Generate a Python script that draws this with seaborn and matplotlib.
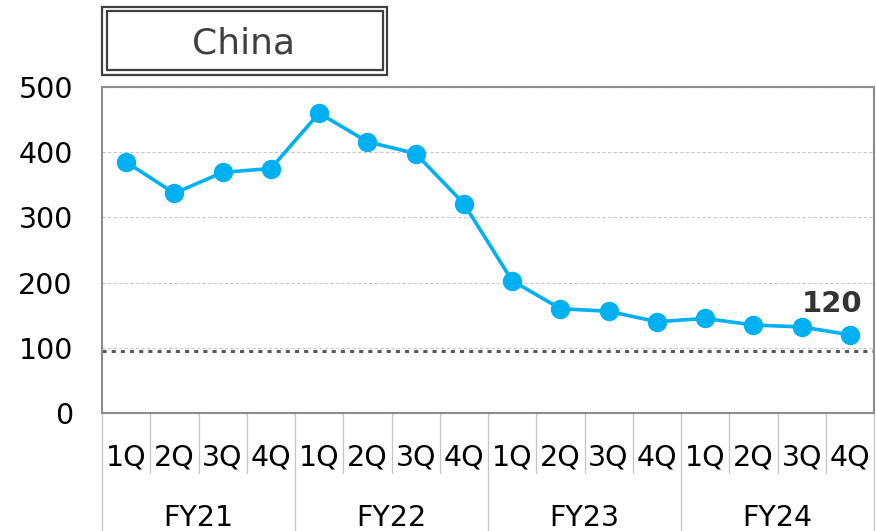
import matplotlib.pyplot as plt
import seaborn as sns
import pandas as pd
from matplotlib.patches import Rectangle

# data
years = ['FY21', 'FY22', 'FY23', 'FY24']
quarters = ['1Q', '2Q', '3Q', '4Q']
china = [385, 337, 369, 375, 460, 416, 398, 321,
         203, 160, 156, 140, 145, 135, 132, 120]
ref_level = 95

df = pd.DataFrame({'pos': range(len(china)), 'value': china})

sns.set_style('white')
plt.rcParams['font.family'] = ['DejaVu Sans']

W, H = 876, 531
fig = plt.figure(figsize=(W / 100, H / 100), dpi=100)
ax = fig.add_axes([102 / W, (H - 413) / H, 772 / W, 326 / H])

# main line
sns.lineplot(data=df, x='pos', y='value', color='#00b0f0', lw=2.6,
             marker='o', markersize=14, markeredgewidth=0, ax=ax, zorder=3)

# dotted reference line
ax.axhline(ref_level, color='#595959', lw=2.2, ls=(0, (1.35, 1.65)),
           dash_capstyle='butt', zorder=2)

ax.set_xlim(-0.5, len(china) - 0.5)
ax.set_ylim(0, 500)
ax.set_yticks(range(0, 501, 100))
ax.yaxis.grid(True, color='#c8c8c8', ls=(0, (3, 2)), lw=0.8)
ax.set_axisbelow(True)
ax.set_xlabel('')
ax.set_ylabel('')

ax.set_xticks(df['pos'])
ax.set_xticklabels(quarters * len(years))
ax.tick_params(axis='x', length=0, pad=22, labelsize=20.5, labelcolor='black')
ax.tick_params(axis='y', length=0, pad=21, labelsize=20.5, labelcolor='black')

for sp in ax.spines.values():
    sp.set_color('#8c8c8c')
    sp.set_linewidth(1.5)

# category separators under the axis
xt = ax.get_xaxis_transform()
short = 60 / 326
long = 118 / 326
for b in range(len(china) + 1):
    depth = long if b % len(quarters) == 0 else short
    ax.plot([b - 0.5, b - 0.5], [0, -depth], transform=xt, clip_on=False,
            color='#c4c4c4', lw=0.9)

# fiscal year labels
for i, fy in enumerate(years):
    mid = i * len(quarters) + (len(quarters) - 1) / 2
    ax.text(mid, -91 / 326, fy, transform=xt, ha='center', va='top',
            fontsize=20.5, color='black')

# last value label
ax.annotate(f'{china[-1]}', xy=(len(china) - 1, china[-1]),
            xytext=(-12.5, 22.5), textcoords='offset points',
            ha='center', va='center', fontsize=21, fontweight='bold',
            color='#333333')

# title box with double border
fig.patches.append(Rectangle((102 / W, 1 - 75 / H), 285 / W, 68 / H,
                             transform=fig.transFigure, fill=False,
                             ec='#404040', lw=1.6))
fig.patches.append(Rectangle((106.5 / W, 1 - 70.5 / H), 276 / W, 59 / H,
                             transform=fig.transFigure, fill=False,
                             ec='#404040', lw=1.6))
fig.text(244 / W, 1 - 43 / H, 'China', ha='center', va='center',
         fontsize=26, color='#404040')

fig.savefig('out.png', dpi=100)
